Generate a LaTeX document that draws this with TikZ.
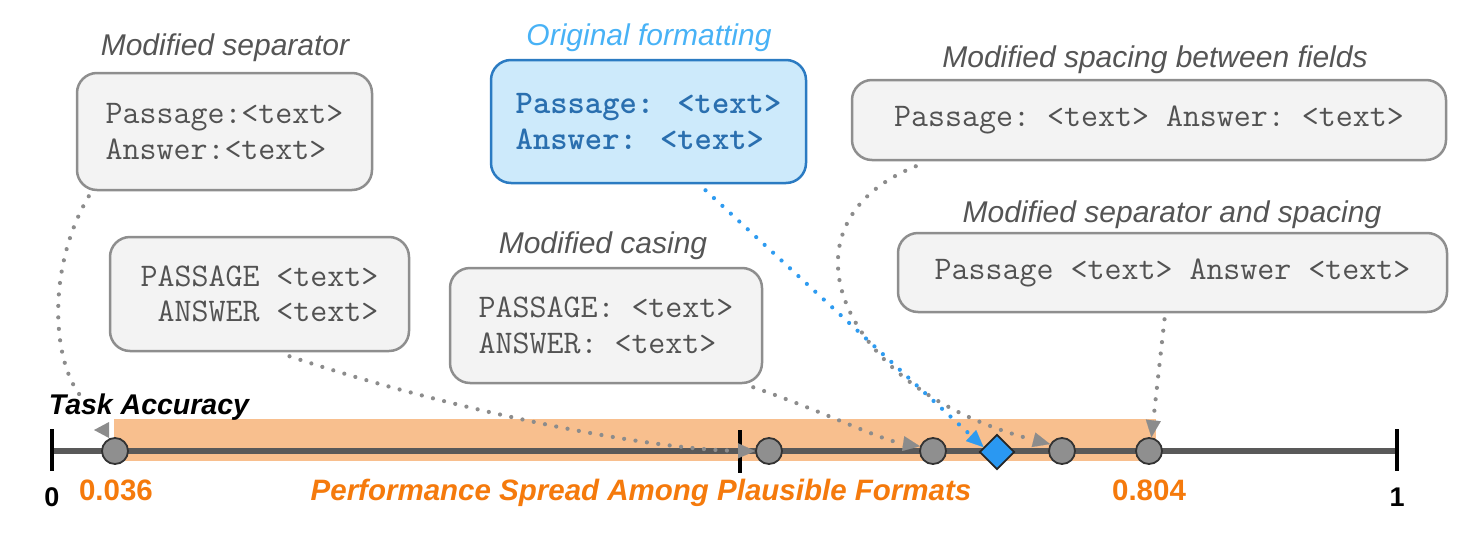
\documentclass[tikz,border=0pt]{standalone}
\usepackage{fontspec}
\setmainfont{Liberation Sans}
\setmonofont{Latin Modern Mono}
\newfontfamily\monobold{Latin Modern Mono Light}
\usetikzlibrary{arrows.meta,shapes.geometric}
\definecolor{boxfill}{HTML}{F3F3F3}
\definecolor{boxline}{HTML}{8E8E8E}
\definecolor{titlegray}{HTML}{555555}
\definecolor{origfill}{HTML}{CDEAFB}
\definecolor{origline}{HTML}{2B7BC2}
\definecolor{origtext}{HTML}{2A6FAF}
\definecolor{origtitle}{HTML}{48B2F6}
\definecolor{band}{HTML}{F8BF8E}
\definecolor{orangetxt}{HTML}{F57A0C}
\definecolor{axisgray}{HTML}{595959}
\definecolor{dotgray}{HTML}{8C8C8C}
\definecolor{dotblue}{HTML}{2E9BF0}
\definecolor{ptfill}{HTML}{8F8F8F}
\definecolor{ptline}{HTML}{333333}
\definecolor{diamondfill}{HTML}{2A98F2}
\tikzset{
  fmtbox/.style={draw=boxline, fill=boxfill, line width=2.5pt, rounded corners=20pt,
    align=left, inner sep=0pt, text=black!68, font=\fontsize{33}{35.5}\selectfont\ttfamily},
  origbox/.style={fmtbox, draw=origline, fill=origfill, text=origtext,
    font=\fontsize{33}{35.5}\selectfont\monobold\bfseries},
  fmttitle/.style={text=titlegray, font=\fontsize{30}{34}\selectfont\itshape},
  axlabel/.style={font=\fontsize{27}{32}\selectfont\bfseries},
  orangelabel/.style={text=orangetxt, font=\fontsize{29.5}{34}\selectfont\bfseries},
  pt/.style={circle, fill=ptfill, draw=ptline, line width=1.8pt, minimum size=26pt, inner sep=0pt},
  conn/.style={draw=dotgray, line width=4.2pt, line cap=round, dash pattern=on 0pt off 11.5pt,
    -{Triangle[length=17pt,width=15pt,line width=0.1pt]}},
  blueconn/.style={conn, draw=dotblue},
  tickline/.style={draw=black, line width=4.5pt},
}
\begin{document}
\begin{tikzpicture}[x=1pt,y=-1pt]
\useasboundingbox (0,0) rectangle (1482,541);

% format boxes
\node[fmtbox, minimum width=295pt, minimum height=117pt] (sep) at (224.5,131.5) {Passage:<text>\\Answer:<text>};
\node[fmttitle] (septitle) at (225,48) {Modified separator};

\node[origbox, minimum width=315pt, minimum height=123pt] (orig) at (648.5,121.5) {Passage: <text>\\Answer: <text>};
\node[fmttitle, text=origtitle] (origtitle) at (649,38) {Original formatting};

\node[fmtbox, minimum width=594pt, minimum height=80pt] (spacing) at (1149,120) {Passage: <text> Answer: <text>};
\node[fmttitle] (spacingtitle) at (1155,60) {Modified spacing between fields};

\node[fmtbox, minimum width=549pt, minimum height=79pt] (sepspace) at (1172.5,272.5) {Passage <text> Answer <text>};
\node[fmttitle] (sepspacetitle) at (1172,215) {Modified separator and spacing};

\node[fmtbox, minimum width=299pt, minimum height=114pt] (caps) at (259.5,294) {PASSAGE <text>\\\phantom{A}ANSWER <text>};

\node[fmtbox, minimum width=312pt, minimum height=115pt] (casing) at (606,325.5) {PASSAGE: <text>\\ANSWER: <text>};
\node[fmttitle] (casingtitle) at (603,246) {Modified casing};

% accuracy axis
\fill[band] (114,419) rectangle (1156,461);
\draw[draw=axisgray, line width=5.5pt] (50,451) -- (1397,451);
\draw[tickline] (52,429) -- (52,471);
\draw[tickline] (740,430) -- (740,473);
\draw[tickline] (1397,429) -- (1397,471);

\node[font=\fontsize{28.5}{34}\selectfont\bfseries\itshape] (acc) at (149,407) {Task Accuracy};
\node[axlabel] (zero) at (52,497) {0};
\node[axlabel] (one) at (1397,497) {1};
\node[orangelabel] (lo) at (116,490) {0.036};
\node[orangelabel] (hi) at (1149,490) {0.804};
\node[orangelabel, font=\fontsize{29.5}{34}\selectfont\bfseries\itshape] (spread) at (641,493) {Performance Spread Among Plausible Formats};

% points
\node[pt] (p1) at (115,451) {};
\node[pt] (p2) at (769,451) {};
\node[pt] (p3) at (933,451) {};
\node[pt] (p4) at (1062,451) {};
\node[pt] (p5) at (1149,451) {};
\node[diamond, fill=diamondfill, draw=black!85, line width=1.8pt, minimum width=35pt, minimum height=35pt, inner sep=0pt] (d) at (997,452) {};

% connectors
\draw[conn, -] ([xshift=13pt,yshift=-5pt]sep.south west) .. controls (45,270) and (52,370) .. (86,402) coordinate (c1end);
\fill[dotgray] (94,430) -- (109,422) -- (109,438) -- cycle;
\draw[conn] ([xshift=30pt,yshift=-4pt]caps.south) .. controls (450,410) and (650,450) .. (p2.west);
\draw[conn] ([xshift=-10pt,yshift=-3pt]casing.south east) .. controls (820,410) and (880,440) .. (p3.160);
\draw[blueconn] ([xshift=57pt,yshift=-6pt]orig.south) -- (d.160);
\draw[conn] ([xshift=65pt,yshift=-5pt]spacing.south west) .. controls (770,225) and (840,390) .. (p4.150);
\draw[conn] ([xshift=-8pt,yshift=-6pt]sepspace.south) -- (p5.80);
\end{tikzpicture}
\end{document}
